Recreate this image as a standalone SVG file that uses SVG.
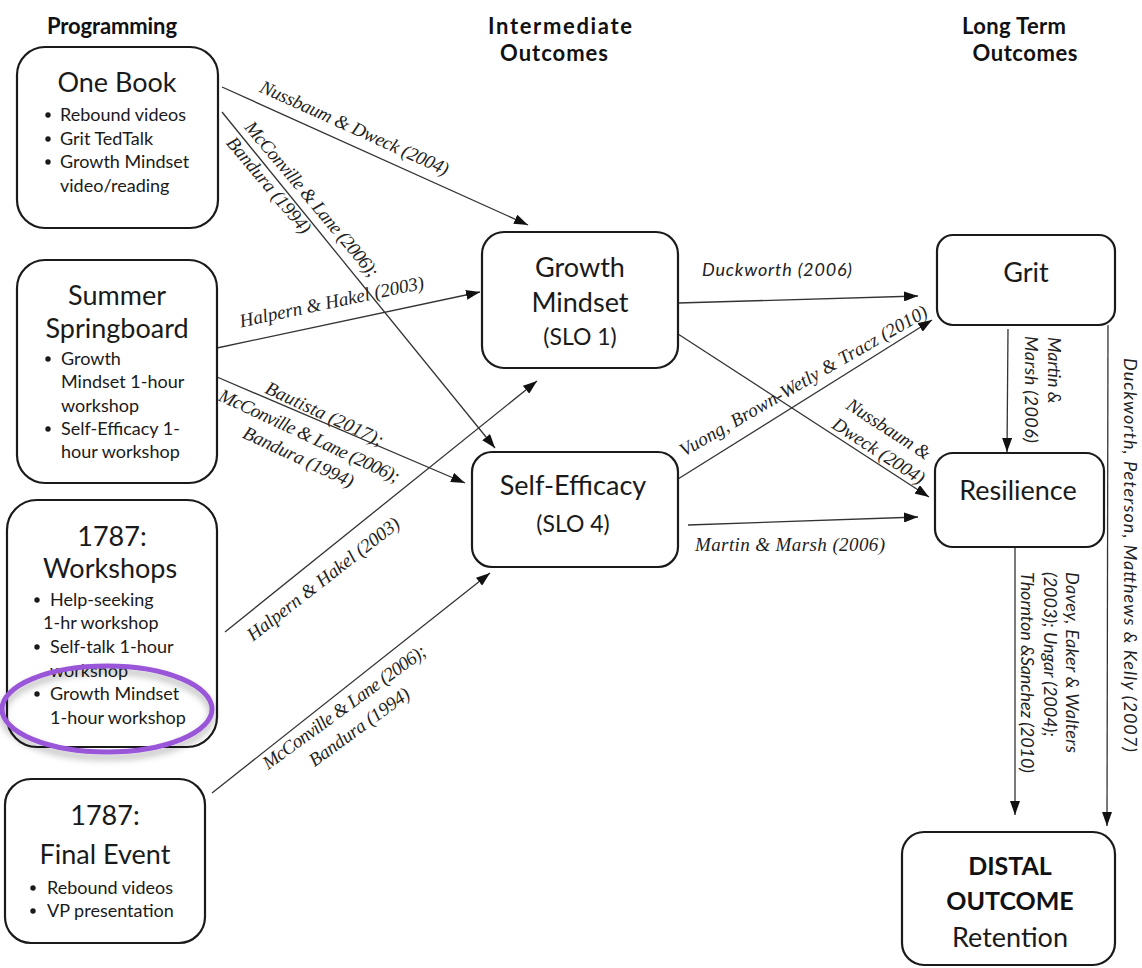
<svg xmlns="http://www.w3.org/2000/svg" width="1142" height="968" viewBox="0 0 1142 968">
<style>
.box{fill:#fff;stroke:#1a1a1a;stroke-width:2.2}
.hd{font-family:Lato,"Liberation Sans",sans-serif;font-weight:bold;font-size:22px;fill:#111;text-anchor:middle}
.t{font-family:Lato,"Open Sans",sans-serif;font-size:27px;fill:#1a1a1a;text-anchor:middle}
.tb{font-family:Lato,"Open Sans",sans-serif;font-size:25px;font-weight:bold;fill:#111;text-anchor:middle}
.b{font-family:Lato,"Open Sans",sans-serif;font-size:18px;fill:#1a1a1a}
.dot{fill:#1a1a1a}
.ln{stroke:#333;stroke-width:1.3;fill:none;marker-end:url(#ah)}
.lab{font-family:"Liberation Serif",serif;font-style:italic;font-size:19px;fill:#222;text-anchor:middle}
.labs{font-family:Lato,"Liberation Sans",sans-serif;font-style:italic;font-size:18px;fill:#222}
</style>
<defs>
<marker id="ah" markerUnits="userSpaceOnUse" markerWidth="14" markerHeight="10" refX="14" refY="5" orient="auto">
<path d="M0,0 L14,5 L0,10 z" fill="#111"/>
</marker>
<filter id="sh" x="-20%" y="-30%" width="140%" height="170%">
<feGaussianBlur in="SourceAlpha" stdDeviation="3.5"/>
<feOffset dy="5" result="o"/>
<feFlood flood-color="#000" flood-opacity="0.3"/>
<feComposite in2="o" operator="in" result="s"/>
<feMerge><feMergeNode in="s"/><feMergeNode in="SourceGraphic"/></feMerge>
</filter>
</defs>
<rect width="1142" height="968" fill="#fff"/>

<g id="headers">
<text class="hd" x="112" y="34" textLength="130">Programming</text>
<text class="hd" x="560" y="34" textLength="144">Intermediate</text>
<text class="hd" x="554" y="61" textLength="108">Outcomes</text>
<text class="hd" x="1014" y="34" textLength="104">Long Term</text>
<text class="hd" x="1025" y="61" textLength="105">Outcomes</text>
</g>

<g id="connectors">
<line class="ln" x1="222" y1="87" x2="528" y2="225"/>
<line class="ln" x1="222" y1="112" x2="495" y2="448"/>
<line class="ln" x1="217" y1="348" x2="480" y2="292"/>
<line class="ln" x1="217" y1="377" x2="465" y2="483"/>
<line class="ln" x1="225" y1="632" x2="537" y2="381"/>
<line class="ln" x1="212" y1="793" x2="490" y2="573"/>
<line class="ln" x1="678" y1="303" x2="918" y2="296"/>
<line class="ln" x1="678" y1="334" x2="929" y2="497"/>
<line class="ln" x1="678" y1="479" x2="932" y2="320"/>
<line class="ln" x1="688" y1="525" x2="918" y2="517"/>
<line class="ln" x1="1008" y1="329" x2="1007" y2="452"/>
<line class="ln" x1="1015" y1="548" x2="1015" y2="815"/>
<line class="ln" x1="1108" y1="325" x2="1107" y2="826"/>

<text class="lab" transform="translate(354,129) rotate(24.3)" y="5" textLength="205">Nussbaum &amp; Dweck (2004)</text>
<text class="lab" transform="translate(311,200) rotate(50)" y="5" textLength="197">McConville &amp; Lane (2006);</text>
<text class="lab" transform="translate(268,186) rotate(50)" y="5" textLength="120">Bandura (1994)</text>
<text class="lab" transform="translate(332,303) rotate(-12)" y="5" textLength="188">Halpern &amp; Hakel (2003)</text>
<text class="lab" transform="translate(324,415) rotate(25)" y="5" textLength="128">Bautista (2017);</text>
<text class="lab" transform="translate(309,437) rotate(25)" y="5" textLength="197">McConville &amp; Lane (2006);</text>
<text class="lab" transform="translate(298,458) rotate(25)" y="5" textLength="120">Bandura (1994)</text>
<text class="lab" transform="translate(324,580) rotate(-38)" y="5" textLength="188">Halpern &amp; Hakel (2003)</text>
<text class="lab" transform="translate(345,708) rotate(-36)" y="5" textLength="197">McConville &amp; Lane (2006);</text>
<text class="lab" transform="translate(360,728) rotate(-36)" y="5" textLength="120">Bandura (1994)</text>
<text class="labs" x="702" y="276" textLength="150">Duckworth (2006)</text>
<text class="lab" transform="translate(888,430) rotate(33)" y="5" textLength="96">Nussbaum &amp;</text>
<text class="lab" transform="translate(878,452) rotate(33)" y="5" textLength="106">Dweck (2004)</text>
<text class="lab" transform="translate(804,382) rotate(-30)" y="5" textLength="283">Vuong, Brown-Wetly &amp; Tracz (2010)</text>
<text class="lab" x="790" y="551" textLength="190">Martin &amp; Marsh (2006)</text>
<text class="labs" transform="translate(1048,337) rotate(90)">Martin &amp;</text>
<text class="labs" transform="translate(1025,336) rotate(90)" textLength="107">Marsh (2006)</text>
<text class="labs" transform="translate(1066,572) rotate(90)" textLength="181">Davey, Eaker &amp; Walters</text>
<text class="labs" transform="translate(1044,572) rotate(90)" textLength="165">(2003); Ungar (2004);</text>
<text class="labs" transform="translate(1021,572) rotate(90)" textLength="201">Thornton &amp;Sanchez (2010)</text>
<text class="labs" transform="translate(1124,358) rotate(90)" textLength="394">Duckworth, Peterson, Matthews &amp; Kelly (2007)</text>
</g>

<g id="one-book">
<rect class="box" x="17" y="47" width="201" height="181" rx="28"/>
<text class="t" x="117" y="92">One Book</text>
<circle class="dot" cx="48" cy="115" r="2.7"/><text class="b" x="60" y="121">Rebound videos</text>
<circle class="dot" cx="48" cy="139" r="2.7"/><text class="b" x="60" y="145">Grit TedTalk</text>
<circle class="dot" cx="48" cy="162" r="2.7"/><text class="b" x="60" y="168">Growth Mindset</text>
<text class="b" x="60" y="192">video/reading</text>
</g>

<g id="summer-springboard">
<rect class="box" x="17" y="260" width="200" height="223" rx="28"/>
<text class="t" x="117" y="305">Summer</text>
<text class="t" x="117" y="338">Springboard</text>
<circle class="dot" cx="48" cy="359" r="2.7"/><text class="b" x="61" y="365">Growth</text>
<text class="b" x="61" y="388">Mindset 1-hour</text>
<text class="b" x="61" y="412">workshop</text>
<circle class="dot" cx="48" cy="429" r="2.7"/><text class="b" x="61" y="435">Self-Efficacy 1-</text>
<text class="b" x="61" y="458">hour workshop</text>
</g>

<g id="workshops">
<rect class="box" x="7" y="500" width="210" height="247" rx="30"/>
<text class="t" x="112" y="546">1787:</text>
<text class="t" x="110" y="578">Workshops</text>
<circle class="dot" cx="37" cy="600" r="2.7"/><text class="b" x="50" y="606">Help-seeking</text>
<text class="b" x="43" y="629">1-hr workshop</text>
<circle class="dot" cx="37" cy="647" r="2.7"/><text class="b" x="50" y="653">Self-talk 1-hour</text>
<text class="b" x="50" y="677">workshop</text>
<circle class="dot" cx="37" cy="694" r="2.7"/><text class="b" x="50" y="700">Growth Mindset</text>
<text class="b" x="50" y="724">1-hour workshop</text>
</g>

<g id="highlight">
<ellipse cx="107" cy="709" rx="105" ry="43" fill="none" stroke="#9a57d8" stroke-width="5" filter="url(#sh)"/>
</g>

<g id="final-event">
<rect class="box" x="5" y="779" width="200" height="164" rx="26"/>
<text class="t" x="105" y="825">1787:</text>
<text class="t" x="105" y="864">Final Event</text>
<circle class="dot" cx="33" cy="888" r="2.7"/><text class="b" x="47" y="894">Rebound videos</text>
<circle class="dot" cx="33" cy="911" r="2.7"/><text class="b" x="47" y="917">VP presentation</text>
</g>

<g id="growth-mindset">
<rect class="box" x="482" y="232" width="196" height="136" rx="22"/>
<text class="t" x="580" y="277">Growth</text>
<text class="t" x="580" y="312">Mindset</text>
<text class="t" x="580" y="345" style="font-size:23px">(SLO 1)</text>
</g>

<g id="self-efficacy">
<rect class="box" x="472" y="452" width="206" height="115" rx="20"/>
<text class="t" x="573" y="495">Self-Efficacy</text>
<text class="t" x="573" y="532" style="font-size:23px">(SLO 4)</text>
</g>

<g id="grit">
<rect class="box" x="937" y="235" width="178" height="90" rx="16"/>
<text class="t" x="1026" y="282">Grit</text>
</g>

<g id="resilience">
<rect class="box" x="935" y="453" width="169" height="94" rx="18"/>
<text class="t" x="1018" y="500">Resilience</text>
</g>

<g id="distal-outcome">
<rect class="box" x="902" y="832" width="213" height="133" rx="22"/>
<text class="tb" x="1010" y="875">DISTAL</text>
<text class="tb" x="1010" y="910">OUTCOME</text>
<text class="t" x="1010" y="947">Retention</text>
</g>
</svg>
